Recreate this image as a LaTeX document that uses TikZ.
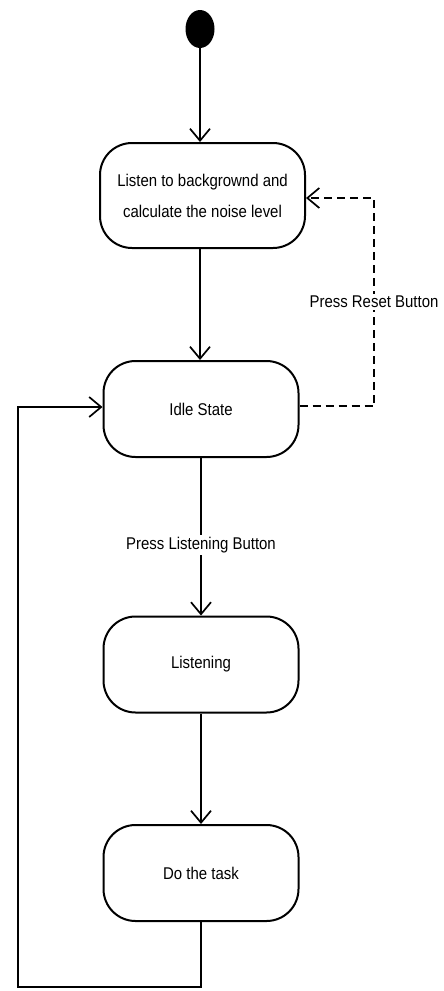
\documentclass[tikz,border=0pt]{standalone}
\usepackage{fontspec}
\setmainfont[FakeStretch=0.88]{Liberation Sans}
\usetikzlibrary{arrows.meta,shapes.geometric}
\begin{document}
\begin{tikzpicture}[x=1pt,y=-1pt,
  statebox/.style={draw,line width=2pt,rounded corners=32pt,minimum width=195pt,minimum height=96pt,inner sep=0pt,align=center,font=\fontsize{17}{31}\selectfont},
  flow/.style={line width=1.7pt,-{Straight Barb[length=12pt,width=20pt,line width=1.7pt]}},
  lbl/.style={fill=white,inner sep=2pt,font=\fontsize{17}{18}\selectfont}]
\useasboundingbox[fill=white] (0,0) rectangle (444,991);
\node[ellipse,fill=black,minimum width=29pt,minimum height=38pt,inner sep=0pt] (start) at (200,29) {};
\node[statebox,minimum width=205pt,minimum height=105pt] (calib) at (202.5,195.5) {Listen to backgrownd and\\calculate the noise level};
\node[statebox] (idle) at (201,409) {Idle State};
\node[statebox] (listen) at (201,664.5) {Listening};
\node[statebox] (task) at (201,873) {Do the task};
\coordinate (r1) at (374,406);
\coordinate (r2) at (374,198);
\coordinate (b1) at (201,987);
\coordinate (b2) at (18,987);
\coordinate (b3) at (18,407);
\draw[flow] (start) -- (calib.north -| start);
\draw[flow] (calib.south -| start) -- (idle.north -| start);
\draw[flow] (idle) -- node[lbl,pos=0.55] {Press Listening Button} (listen);
\draw[flow] (listen) -- (task);
\draw[flow,dashed,dash pattern=on 8pt off 5pt] (idle.east |- r1) -- (r1) -- node[lbl,pos=0.5] {Press Reset Button} (r2) -- (calib.east |- r2);
\draw[flow] (task.south) -- (b1) -- (b2) -- (b3) -- (idle.west |- b3);
\end{tikzpicture}
\end{document}
